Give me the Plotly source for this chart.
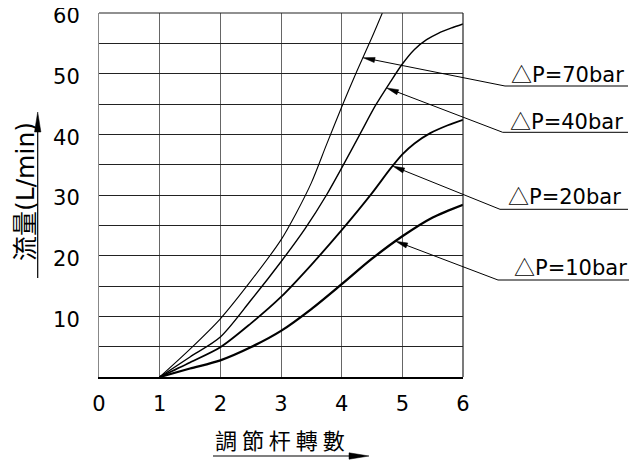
import numpy as np
import plotly.graph_objects as go

# ---------------- data ----------------
turns_70 = [1, 1.5, 2, 2.5, 3, 3.25, 3.5, 3.75, 4, 4.25, 4.5, 4.67]
flow_70 = [0, 4.6, 9.6, 15.8, 22.6, 27, 32, 38.3, 44.5, 50.4, 56.0, 60]

turns_40 = [1, 1.5, 2, 2.5, 3, 3.4, 3.75, 4.03, 4.3, 4.56, 4.8, 5.0, 5.2, 5.4, 5.6, 5.8, 6]
flow_40 = [0, 3.3, 6.6, 12.6, 19, 24.5, 30, 35, 40, 44.8, 48.6, 51.6, 54.0, 55.6, 56.7, 57.5, 58.2]

turns_20 = [1, 1.5, 2, 2.5, 3, 3.5, 4, 4.5, 4.8, 5.0, 5.2, 5.46, 5.75, 6]
flow_20 = [0, 2.4, 4.9, 8.8, 13.2, 18.5, 24.2, 30.3, 34.3, 36.7, 38.5, 40.2, 41.5, 42.4]

turns_10 = [1, 1.5, 2, 2.5, 3, 3.5, 4, 4.5, 5, 5.5, 6]
flow_10 = [0, 1.4, 2.75, 4.9, 7.6, 11.2, 15.3, 19.5, 23.2, 26.3, 28.4]

delta_symbol = "△"
series_labels = ["P=70bar", "P=40bar", "P=20bar", "P=10bar"]
label_tip_turns = [4.35, 4.74, 4.84, 4.89]

x_tick_vals = [0, 1, 2, 3, 4, 5, 6]
x_tick_text = ["0", "1", "2", "3", "4", "5", "6"]
y_tick_vals = [0, 5, 10, 15, 20, 25, 30, 35, 40, 45, 50, 55, 60]
y_tick_text = ["", "", "10", "", "20", "", "30", "", "40", "", "50", "", "60"]

x_title = "調 節 杆 轉 數"
y_title = "流量(L/min)"

# ---------------- layout geometry (page pixels) ----------------
BODY = 8                      # default page margin around the figure
W, H = 637 - BODY, 462 - BODY
L, T = 99, 13                 # plot area top-left on the page
PW, PH = 364, 364
XMAX, YMAX = 6, 60

def d2p(x, y):
    return L + x / XMAX * PW, T + (YMAX - y) / YMAX * PH

def p2paper(px, py):
    return (px - L) / PW, (T + PH - py) / PH

fig = go.Figure()

series = [(turns_70, flow_70, 1.1), (turns_40, flow_40, 1.4),
          (turns_20, flow_20, 1.8), (turns_10, flow_10, 2.3)]
for (xs, ys, w), name in zip(series, series_labels):
    fig.add_trace(go.Scatter(x=xs, y=ys, mode="lines", name=delta_symbol + name,
                             line=dict(color="black", width=w, shape="spline", smoothing=0.8),
                             showlegend=False, hoverinfo="skip"))

shapes = []
annotations = []

def add_arrow(tail, tip, head_len=13, head_half=3.0, width=1.0):
    tx, ty = tail
    hx, hy = tip
    dx, dy = hx - tx, hy - ty
    n = np.hypot(dx, dy)
    ux, uy = dx / n, dy / n
    bx, by = hx - ux * head_len, hy - uy * head_len
    x0, y0 = p2paper(tx, ty)
    x1, y1 = p2paper(bx + ux * 1, by + uy * 1)
    shapes.append(dict(type="line", xref="paper", yref="paper", x0=x0, y0=y0, x1=x1, y1=y1,
                       line=dict(color="black", width=width)))
    px_, py_ = -uy, ux
    pts = [(hx, hy), (bx + px_ * head_half, by + py_ * head_half), (bx - px_ * head_half, by - py_ * head_half)]
    pp = [p2paper(a, b) for a, b in pts]
    path = "M{},{} L{},{} L{},{} Z".format(pp[0][0], pp[0][1], pp[1][0], pp[1][1], pp[2][0], pp[2][1])
    shapes.append(dict(type="path", xref="paper", yref="paper", path=path,
                       fillcolor="black", line=dict(color="black", width=0.5)))

def add_hline(x0p, x1p, yp, width=1.0):
    a = p2paper(x0p, yp)
    b = p2paper(x1p, yp)
    shapes.append(dict(type="line", xref="paper", yref="paper", x0=a[0], y0=a[1], x1=b[0], y1=b[1],
                       line=dict(color="black", width=width)))

# frame: top and right edges dark
shapes.append(dict(type="line", xref="paper", yref="paper", x0=0, y0=1, x1=1, y1=1,
                   line=dict(color="#222", width=1.2), layer="above"))
shapes.append(dict(type="line", xref="paper", yref="paper", x0=1, y0=0, x1=1, y1=1,
                   line=dict(color="#222", width=1.2), layer="above"))

# pressure labels
label_font = dict(family="DejaVu Sans, Liberation Sans, sans-serif", size=21, color="black")
text_centers = [(567, 72.5), (566, 120), (564, 195), (570, 265.5)]
underlines = [(505, 628, 86), (502.7, 628, 132.3), (500, 628, 209.3), (498, 637, 280)]
curves = [(turns_70, flow_70), (turns_40, flow_40), (turns_20, flow_20), (turns_10, flow_10)]
for lab, tipx, (cx, cy), (u0, u1, uy), (xs, ys) in zip(series_labels, label_tip_turns, text_centers, underlines, curves):
    xp, yp = p2paper(cx, cy)
    txt = '<span style="font-family:\'Noto Sans CJK TC\'">' + delta_symbol + '</span>' + lab
    annotations.append(dict(text=txt, xref="paper", yref="paper", x=xp, y=yp,
                            xanchor="center", yanchor="middle", showarrow=False, font=label_font))
    add_hline(u0, u1, uy, 1.0)
    tipy = float(np.interp(tipx, xs, ys))
    add_arrow((u0, uy), d2p(tipx, tipy), head_len=12, head_half=2.6, width=1.0)

# axis titles
xp, yp = p2paper(280, 439)
annotations.append(dict(text=x_title, xref="paper", yref="paper", x=xp, y=yp,
                        xanchor="center", yanchor="middle", showarrow=False,
                        font=dict(family="Noto Sans CJK TC, sans-serif", size=22, color="black")))
add_arrow((213, 456), (369, 456), head_len=20, head_half=3.2, width=1.2)

xp, yp = p2paper(25, 192)
annotations.append(dict(text=y_title, xref="paper", yref="paper", x=xp, y=yp, textangle=-90,
                        xanchor="center", yanchor="middle", showarrow=False,
                        font=dict(family="DejaVu Sans, Noto Sans CJK TC, sans-serif", size=25, color="black")))
add_arrow((37.7, 278), (37.7, 112), head_len=20, head_half=3.2, width=1.2)

tick_font = dict(family="DejaVu Sans, Liberation Sans, sans-serif", size=21, color="black")
fig.update_layout(
    width=W, height=H,
    margin=dict(l=L - BODY, r=W - (L - BODY) - PW, t=T - BODY, b=H - (T - BODY) - PH, pad=0, autoexpand=False),
    paper_bgcolor="white", plot_bgcolor="white",
    xaxis=dict(range=[0, XMAX], tickmode="array", tickvals=x_tick_vals, ticktext=x_tick_text,
               showgrid=True, gridcolor="#666", gridwidth=1, zeroline=False, automargin=False,
               showline=True, linecolor="black", linewidth=2.2, ticks="",
               ticklabelstandoff=7, tickfont=tick_font, fixedrange=True),
    yaxis=dict(range=[0, YMAX], tickmode="array", tickvals=y_tick_vals, ticktext=y_tick_text,
               showgrid=True, gridcolor="#222", gridwidth=1.1, zeroline=False, automargin=False,
               showline=True, linecolor="#888", linewidth=1, ticks="",
               ticklabelstandoff=14, ticklabelshift=3, ticklabeloverflow="allow",
               tickfont=tick_font, fixedrange=True),
    shapes=shapes, annotations=annotations,
)

fig.write_html("out.html")
